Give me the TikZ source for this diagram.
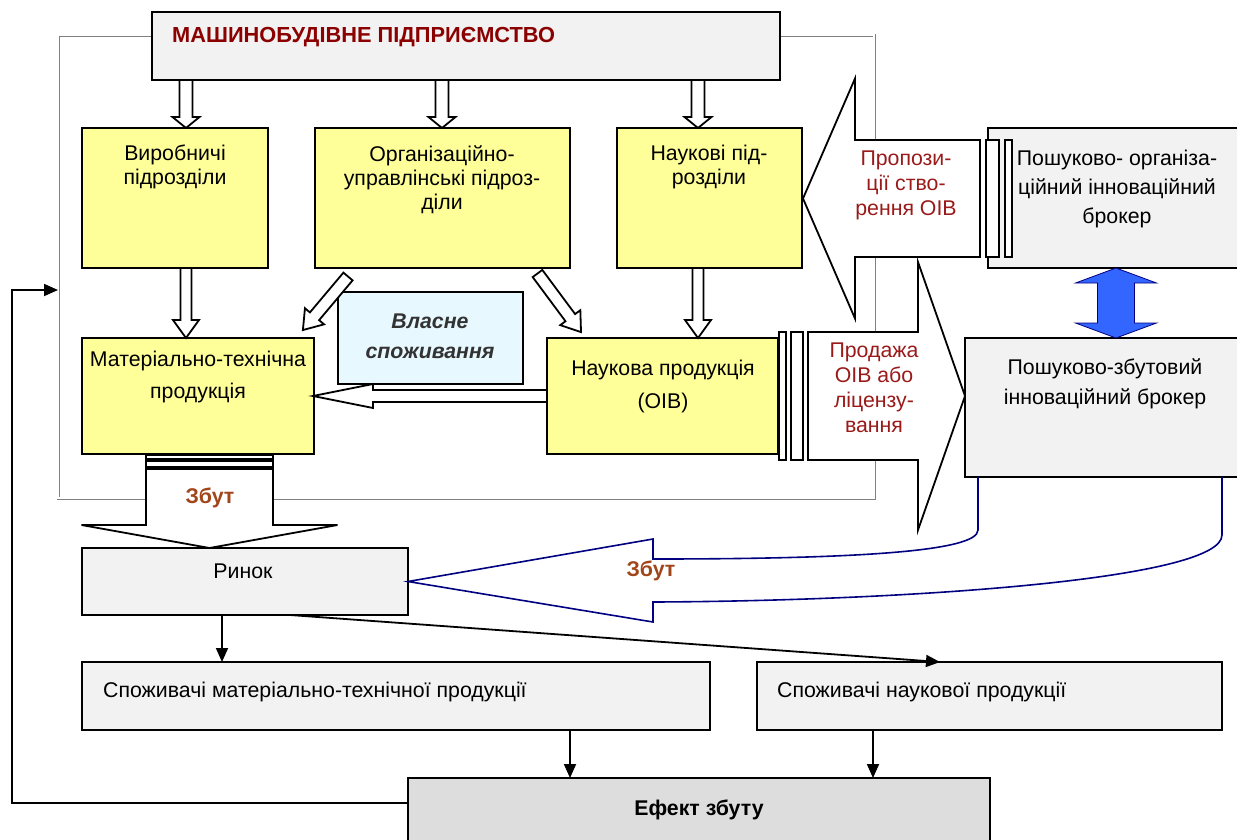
\documentclass[tikz,border=0pt]{standalone}
\usepackage{fontspec}
\setmainfont{Liberation Sans}
\usetikzlibrary{arrows.meta,calc}
\definecolor{yel}{HTML}{FFFF99}
\definecolor{lg}{HTML}{F2F2F2}
\definecolor{effg}{HTML}{DDDDDD}
\definecolor{cyanl}{HTML}{E8F8FF}
\definecolor{titred}{HTML}{8B0000}
\definecolor{lblred}{HTML}{9A1A1A}
\definecolor{zbut}{HTML}{A0461A}
\definecolor{navy}{HTML}{000080}
\definecolor{bluef}{HTML}{3366FF}
\definecolor{vtext}{HTML}{333333}
\definecolor{frgray}{HTML}{808080}
\newcommand\mybox[6]{\node[#1, anchor=north west, minimum width={#5pt-#3pt}, minimum height={#6pt-#4pt}] (#2) at (#3,#4) {};}
\newcommand\barrow[4]{(0,-#2) -- ({#1-#4},-#2) -- ({#1-#4},-#3) -- (#1,0) -- ({#1-#4},#3) -- ({#1-#4},#2) -- (0,#2) -- cycle}
\begin{document}
\begin{tikzpicture}[x=1pt,y=-1pt,
  box/.style={draw=black, line width=2pt, inner sep=0pt, outer sep=0pt},
  ybox/.style={box, fill=yel},
  gbox/.style={box, fill=lg},
  cbox/.style={box, fill=cyanl},
  ebox/.style={box, fill=effg},
  frmout/.style={draw=frgray, line width=3pt},
  frmin/.style={draw=white, line width=1.2pt},
  barr/.style={draw=black, line width=1.8pt, fill=white, line join=miter},
  lead/.style={font=\fontsize{21.3}{#1}\selectfont},
  txt/.style={lead=24, align=center, inner sep=0pt, anchor=north},
  one/.style={font=\fontsize{21.3}{24}\selectfont, inner sep=0pt},
  tarr/.style={draw=black, line width=1.8pt, -{Triangle[length=14pt,width=12pt]}},
  bluearr/.style={draw=navy, line width=0.8pt, fill=bluef},
  navyarr/.style={draw=navy, line width=1.6pt, line join=miter},
]
\useasboundingbox (0,0) rectangle (1237,839);
\clip (0,0) rectangle (1237,839);
% frame of the enterprise
\node[inner sep=0pt, outer sep=0pt, anchor=north west, minimum width=816pt, minimum height=463pt] (frame) at (58,35) {};
\draw[frmout] (frame.north west) rectangle (frame.south east);
\draw[frmin] (frame.north west) rectangle (frame.south east);
% boxes
\mybox{gbox}{title}{152}{12}{780}{80}
\mybox{ybox}{vyr}{82}{128}{268}{268}
\mybox{ybox}{org}{315}{128}{570}{268}
\mybox{ybox}{nauk}{617}{128}{802}{268}
\mybox{ybox}{mat}{82}{338}{314}{454}
\mybox{cbox}{vlas}{338}{292}{523}{384}
\mybox{ybox}{np}{547}{338}{778}{454}
\mybox{gbox}{br1}{988}{128}{1250}{268}
\mybox{gbox}{br2}{965}{338}{1250}{477}
\mybox{gbox}{rynok}{82}{548}{408}{615}
\mybox{gbox}{spm}{82}{662}{710}{730}
\mybox{gbox}{spn}{757}{662}{1222}{730}
\mybox{ebox}{eff}{408}{778}{990}{850}
% hollow block arrows
\draw[barr, shift={(186,80)}, rotate=-90] \barrow{48}{6.5}{13.5}{11};
\draw[barr, shift={(442,80)}, rotate=-90] \barrow{48}{6.5}{13.5}{11};
\draw[barr, shift={(698,80)}, rotate=-90] \barrow{48}{6.5}{13.5}{11};
\draw[barr, shift={(186,268)}, rotate=-90] \barrow{70}{5.5}{13}{18};
\draw[barr, shift={(698,268)}, rotate=-90] \barrow{70}{5.5}{13}{18};
\draw[barr, shift={(348,276.5)}, rotate=-130.1] \barrow{70}{6}{12.5}{18};
\draw[barr, shift={(537.5,273.5)}, rotate=-53.4] \barrow{73}{6}{12.5}{18};
\draw[barr, shift={(547,396)}, rotate=180] \barrow{234}{6}{12}{60};
% striped arrow: sales to market
\draw[barr] (146,455) rectangle (273,459);
\draw[barr] (146,461) rectangle (273,467);
\draw[barr, shift={(209.5,469)}, rotate=-90] \barrow{79}{63.5}{128}{23};
% striped arrow: sale of OIV
\draw[barr] (779,332) rectangle (786,460);
\draw[barr] (791,332) rectangle (803,460);
\draw[barr, shift={(808,396)}] \barrow{157}{64}{134}{47};
% striped arrow: proposals
\draw[barr, shift={(980,198.5)}, rotate=180] \barrow{177}{58.5}{120}{52};
\draw[barr] (986,140) rectangle (999,257);
\draw[barr] (1005,140) rectangle (1012,257);
% blue double arrow between brokers
\draw[bluearr] (1116,268) -- (1156.5,283) -- (1134.5,283) -- (1134.5,323) -- (1156.5,323) -- (1116,338) -- (1075.5,323) -- (1097.5,323) -- (1097.5,283) -- (1075.5,283) -- cycle;
% navy curved sales arrow
\coordinate (bz1) at ($(br2.south west)+(13,0)$);
\coordinate (bz2) at ($(br2.south west)+(257,0)$);
\draw[navyarr] (bz1) -- ++(0,53) .. controls ++(0,22) and (850,559) .. (653,559) -- (653,539) -- (rynok.east) -- (653,622) -- (653,602) .. controls (900,601) and ($(bz2)+(0,103)$) .. ($(bz2)+(0,58)$) -- (bz2);
% texts
\node[anchor=base west, font=\bfseries\fontsize{21.8}{24}\selectfont, text=titred, inner sep=0pt] (ttitle) at (172,42) {МАШИНОБУДІВНЕ ПІДПРИЄМСТВО};
\node[txt] (tvyr) at (175,145) {Виробничі\\підрозділи};
\node[txt] (torg) at (442,145) {Організаційно-\\управлінські підроз-\\діли};
\node[txt] (tnauk) at (709,145) {Наукові під-\\розділи};
\node[txt, lead=32] (tmat) at (198,351) {Матеріально-технічна\\продукція};
\node[txt, lead=33] (tnp) at (663,360) {Наукова продукція\\(ОІВ)};
\node[txt, font=\bfseries\itshape\fontsize{21.3}{30}\selectfont, text=vtext] (tvlas) at (430,314) {Власне\\споживання};
\node[txt, lead=25, text=lblred] (tprop) at (906,151) {Пропози-\\ції ство-\\рення ОІВ};
\node[txt, lead=25, text=lblred] (tprod) at (874,343) {Продажа\\ОІВ або\\ліцензу-\\вання};
\node[txt, lead=29] (tbr1) at (1117,150) {Пошуково- організа-\\ційний інноваційний\\брокер};
\node[txt, lead=30] (tbr2) at (1105,358) {Пошуково-збутовий\\інноваційний брокер};
\node[one, anchor=base] (tryn) at (243,578) {Ринок};
\node[one, anchor=base west] (tspm) at (103,697) {Споживачі матеріально-технічної продукції};
\node[one, anchor=base west] (tspn) at (777,697) {Споживачі наукової продукції};
\node[one, anchor=base, font=\bfseries\fontsize{21.3}{24}\selectfont] (teff) at (699,815) {Ефект збуту};
\node[one, anchor=base, font=\bfseries\fontsize{21.3}{24}\selectfont, text=zbut] (tz1) at (210,503) {Збут};
\node[one, anchor=base, font=\bfseries\fontsize{21.3}{24}\selectfont, text=zbut] (tz2) at (651,576) {Збут};
% thin connectors
\coordinate (r1) at ($(rynok.south west)+(140,0)$);
\draw[tarr] (r1) -- (r1 |- spm.north);
\coordinate (r2) at ($(rynok.south west)+(208,0)$);
\coordinate (n2) at ($(spn.north west)+(183,0)$);
\draw[tarr] (r2) -- (n2);
\coordinate (s1) at ($(spm.south west)+(488,0)$);
\draw[tarr] (s1) -- (s1 |- eff.north);
\coordinate (s2) at ($(spn.south west)+(116,0)$);
\draw[tarr] (s2) -- (s2 |- eff.north);
\coordinate (e1) at ($(eff.north west)+(0,25)$);
\coordinate (fb) at ($(frame.north west)+(0,255)$);
\draw[tarr] (e1) -- ++(-396,0) |- (fb);
\end{tikzpicture}
\end{document}
